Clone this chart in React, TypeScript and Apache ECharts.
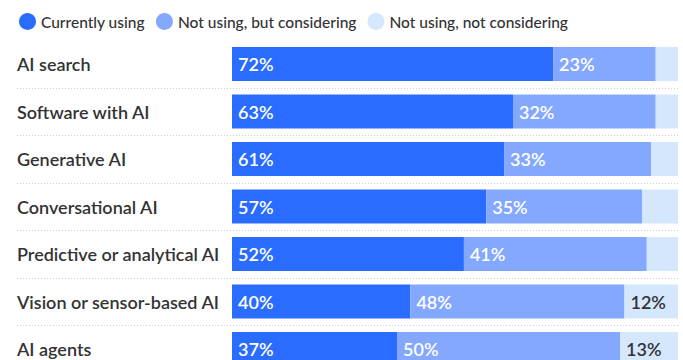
import React, { useEffect, useRef } from "react";
import * as echarts from "echarts";

const categories = [
  "AI search",
  "Software with AI",
  "Generative AI",
  "Conversational AI",
  "Predictive or analytical AI",
  "Vision or sensor-based AI",
  "AI agents",
];
const seriesNames = ["Currently using", "Not using, but considering", "Not using, not considering"];
const currentlyUsing = [72, 63, 61, 57, 52, 40, 37];
const considering = [23, 32, 33, 35, 41, 48, 50];
const notConsidering = [5, 5, 6, 8, 7, 12, 13];

const COLORS = ["#2A6CFF", "#85A8FF", "#D4E7FD"];
const FONT = "Lato";

export default function App() {
  const ref = useRef<HTMLDivElement>(null);
  useEffect(() => {
    if (!ref.current) return;
    const chart = echarts.init(ref.current, null, { renderer: "svg" });
    const top = 40.25;
    const height = 332.5;
    const H = 380;
    const bottom = H - top - height;
    const labelBase = {
      show: true,
      position: "insideLeft" as const,
      distance: 6,
      fontFamily: FONT,
      fontSize: 18,
      fontWeight: 600,
    };
    chart.setOption({
      animation: false,
      textStyle: { fontFamily: FONT },
      legend: {
        left: 14,
        top: 8,
        icon: "circle",
        itemWidth: 17,
        itemHeight: 17,
        itemGap: 11,
        textStyle: { fontFamily: FONT, fontSize: 15.5, color: "#333", fontWeight: 500 },
        data: seriesNames,
      },
      grid: [
        { left: 232, right: 5, top, bottom },
        { left: 17, right: 5, top, bottom },
      ],
      xAxis: [
        { type: "value", min: 0, max: 100, show: false, gridIndex: 0 },
        { type: "value", min: 0, max: 100, show: false, gridIndex: 1 },
      ],
      yAxis: [
        {
          type: "category",
          gridIndex: 0,
          data: categories,
          inverse: true,
          axisLine: { show: false },
          axisTick: { show: false },
          splitLine: { show: false },
          axisLabel: {
            align: "left",
            margin: 215,
            fontFamily: FONT,
            fontSize: 18,
            fontWeight: 600,
            color: "#333",
          },
        },
        {
          type: "category",
          gridIndex: 1,
          data: categories,
          inverse: true,
          axisLine: { show: false },
          axisTick: { show: false },
          axisLabel: { show: false },
          splitLine: {
            show: true,
            showMinLine: false,
            showMaxLine: false,
            lineStyle: { type: [1, 2], color: "#cfcfcf", width: 1 },
          },
        },
      ],
      series: [
        {
          name: seriesNames[0],
          type: "bar",
          stack: "s",
          barWidth: 34,
          data: currentlyUsing,
          itemStyle: { color: COLORS[0] },
          label: { ...labelBase, color: "#fff", formatter: "{c}%" },
        },
        {
          name: seriesNames[1],
          type: "bar",
          stack: "s",
          barWidth: 34,
          data: considering,
          itemStyle: { color: COLORS[1] },
          label: { ...labelBase, color: "#fff", formatter: "{c}%" },
        },
        {
          name: seriesNames[2],
          type: "bar",
          stack: "s",
          barWidth: 34,
          data: notConsidering,
          itemStyle: { color: COLORS[2] },
          label: {
            ...labelBase,
            color: "#333",
            formatter: (p: any) => (p.value >= 10 ? p.value + "%" : ""),
          },
        },
      ],
    });
    return () => chart.dispose();
  }, []);
  return (
    <div
      ref={ref}
      style={{ position: "fixed", left: 0, top: 0, width: 683, height: 380, background: "#fff" }}
    />
  );
}
